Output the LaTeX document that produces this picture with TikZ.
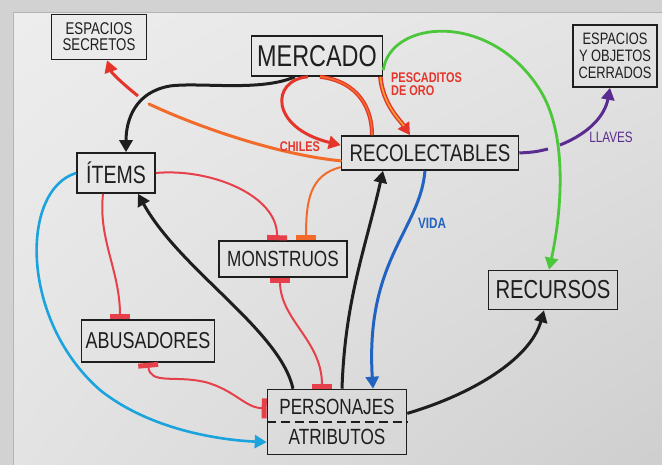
\documentclass[tikz,border=0pt]{standalone}
\usepackage{fontspec}
\newfontfamily\hand[FakeStretch=0.78]{Liberation Sans}
\usetikzlibrary{arrows.meta,shadings}
\definecolor{ink}{HTML}{1E1E1E}
\definecolor{frame}{HTML}{D2D2D2}
\definecolor{frameline}{HTML}{B4B4B4}
\definecolor{redpen}{HTML}{E6404A}
\definecolor{chili}{HTML}{E5352B}
\definecolor{orangepen}{HTML}{F26B2A}
\definecolor{goldpen}{HTML}{F7A233}
\definecolor{greenpen}{HTML}{4CC63A}
\definecolor{purplepen}{HTML}{5B2C8F}
\definecolor{bluepen}{HTML}{2262C0}
\definecolor{cyanpen}{HTML}{1AA3DC}
\begin{document}
\begin{tikzpicture}[x=1pt,y=-1pt,
  box/.style={draw=ink,line width=1.6pt,inner sep=0pt,text=ink},
  tip/.style={-{Triangle[width=13pt,length=12pt]}},
  blockend/.style={-{Rectangle[width=20pt,length=5pt]}},
  blockboth/.style={{Rectangle[width=20pt,length=5pt]}-{Rectangle[width=20pt,length=5pt]}}]
  \useasboundingbox (0,0) rectangle (662,465);
  \fill[frame] (0,0) rectangle (662,465);
  \shade[upper left=black!7,upper right=black!11,lower left=black!11,lower right=black!19]
    (13,13) rectangle (662,465);
  \draw[frameline,line width=1pt] (13,465) -- (13,13) -- (662,13);

  \node[box,minimum width=95pt,minimum height=45pt,align=center,
    font=\hand\fontsize{17}{16}\selectfont] (sec) at (99,37) {ESPACIOS\\SECRETOS};
  \node[box,minimum width=131pt,minimum height=40pt,
    font=\hand\fontsize{30}{30}\selectfont] (merc) at (317,56) {MERCADO};
  \node[box,minimum width=84pt,minimum height=62pt,align=center,
    font=\hand\fontsize{16.5}{17}\selectfont] (cerr) at (615,56) {ESPACIOS\\Y OBJETOS\\CERRADOS};
  \node[box,minimum width=78pt,minimum height=40pt,
    font=\hand\fontsize{25}{25}\selectfont] (items) at (116,173) {ÍTEMS};
  \node[box,minimum width=177pt,minimum height=34pt,
    font=\hand\fontsize{24}{24}\selectfont] (recol) at (430,153) {RECOLECTABLES};
  \node[box,minimum width=128pt,minimum height=36pt,
    font=\hand\fontsize{22}{22}\selectfont] (mons) at (283,259) {MONSTRUOS};
  \node[box,minimum width=129pt,minimum height=39pt,
    font=\hand\fontsize{26}{26}\selectfont] (recur) at (553,290) {RECURSOS};
  \node[box,minimum width=133pt,minimum height=42pt,
    font=\hand\fontsize{23}{23}\selectfont] (abus) at (148,341) {ABUSADORES};
  \node[box,minimum width=139pt,minimum height=65pt,align=center,
    font=\hand\fontsize{22}{30}\selectfont] (pers) at (337,422) {PERSONAJES\\ATRIBUTOS};
  \draw[ink,line width=1.5pt,dash pattern=on 9pt off 5pt] (pers.west) -- (pers.east);

  \coordinate (chA) at (149,104);
  \coordinate (chB) at (138,96);
  \draw[orangepen,line width=3pt,line cap=round] (recol.185)
    .. controls (280,155) and (200,128) .. (chA);
  \draw[chili,line width=3pt,tip] (chB) .. controls (128,88) and (112,74) .. ([xshift=8pt]sec.south);
  \draw[ink,line width=3pt,tip] ([xshift=-22pt]merc.south)
    .. controls (260,92) and (200,82) .. (170,86)
    .. controls (135,92) and (126,120) .. ([xshift=10pt]items.north);

  \draw[chili,line width=3pt,tip] ([xshift=-9pt]merc.south)
    .. controls (270,80) and (270,128) .. (recol.175);
  \draw[chili,line width=4pt] ([xshift=3pt]merc.south)
    .. controls (350,80) and (372,100) .. ([xshift=-58pt]recol.north);
  \draw[orangepen,line width=1.6pt] ([xshift=3pt]merc.south)
    .. controls (350,80) and (372,100) .. ([xshift=-58pt]recol.north);

  \draw[greenpen,line width=2.8pt,tip] (merc.348)
    .. controls (390,20) and (490,10) .. (540,90)
    .. controls (570,138) and (560,220) .. ([xshift=-4pt]recur.north);
  \draw[chili,line width=4.5pt,tip,
    postaction={draw=goldpen,line width=1.6pt,-,shorten >=11pt}] ([xshift=-3pt]merc.south east)
    .. controls (383,105) and (400,120) .. ([xshift=-20pt]recol.north);
  \node[text=chili,font=\hand\bfseries\fontsize{14}{13}\selectfont,align=left,
    anchor=north west,inner sep=0pt] (pesc) at (391,73) {PESCADITOS\\DE ORO};
  \node[text=chili,font=\hand\bfseries\fontsize{14}{14}\selectfont] (chiles) at (300,147) {CHILES};

  \coordinate (llA) at (548,149);
  \coordinate (llB) at (560,145);
  \draw[purplepen,line width=3pt] (recol.east) .. controls (535,152) .. (llA);
  \draw[purplepen,line width=3pt,tip] (llB)
    .. controls (590,133) and (605,115) .. ([xshift=-5pt]cerr.south);
  \node[text=purplepen,font=\hand\fontsize{15}{15}\selectfont] (llaves) at (611,137) {LLAVES};

  \draw[bluepen,line width=3pt,tip] ([xshift=-5pt]recol.south)
    .. controls (420,230) and (365,260) .. ([xshift=36pt]pers.north);
  \node[text=bluepen,font=\hand\bfseries\fontsize{15}{15}\selectfont] (vida) at (432,223) {VIDA};
  \draw[ink,line width=3pt,tip] ([xshift=5pt]pers.north)
    .. controls (345,300) and (365,250) .. ([xshift=-47pt]recol.south);
  \draw[ink,line width=3pt,tip] ([xshift=-44pt]pers.north)
    .. controls (280,330) and (180,270) .. ([xshift=22pt]items.south);
  \draw[ink,line width=3pt,tip] (pers.7)
    .. controls (470,395) and (530,360) .. ([xshift=-9pt]recur.south);
  \draw[cyanpen,line width=2.6pt,tip] (items.west)
    .. controls (20,190) and (20,320) .. (100,390)
    .. controls (150,430) and (220,440) .. (pers.196);

  \draw[redpen,line width=2pt,blockend] (items.east)
    .. controls (210,168) and (278,195) .. ([xshift=-6pt]mons.north);
  \draw[orangepen,line width=2pt,blockend] (recol.189)
    .. controls (310,175) and (306,200) .. ([xshift=23pt]mons.north);
  \draw[redpen,line width=2pt,blockend] ([xshift=-13pt]items.south)
    .. controls (98,240) and (120,270) .. ([xshift=-28pt]abus.north);
  \draw[redpen,line width=2pt,blockboth] ([xshift=-3pt]mons.south)
    .. controls (280,320) and (322,340) .. ([xshift=-15pt]pers.north);
  \draw[redpen,line width=2pt,blockboth] (abus.south)
    .. controls (150,385) and (175,375) .. (205,382)
    .. controls (235,390) and (245,408) .. (pers.169);
\end{tikzpicture}
\end{document}
